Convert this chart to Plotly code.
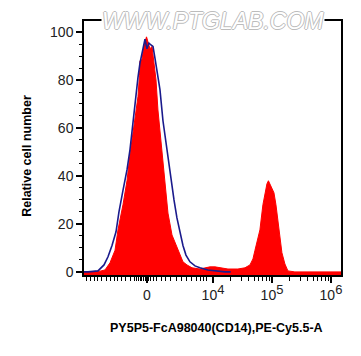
import numpy as np
import plotly.graph_objects as go

# ---- data (x in display units: 0 -> 2.88, 10^4 -> 4, 10^5 -> 5, 10^6 -> 6) ----
red_x = [1.812, 1.880, 2.083, 2.168, 2.253, 2.338, 2.388, 2.473, 2.541, 2.592, 2.643,
         2.694, 2.727, 2.753, 2.761, 2.795, 2.829, 2.872, 2.897, 2.931, 2.965, 2.999,
         3.033, 3.066, 3.100, 3.151, 3.202, 3.236, 3.304, 3.388, 3.439, 3.490, 3.558,
         3.643, 3.778, 3.863, 3.948, 4.033, 4.117, 4.253, 4.422, 4.541, 4.626, 4.677,
         4.711, 4.762, 4.795, 4.846, 4.880, 4.914, 4.939, 4.965, 4.999, 5.033, 5.067,
         5.100, 5.134, 5.168, 5.219, 5.270, 5.388, 6.170]
red_y = [0, 0, 0.3, 0.8, 3.8, 9, 17.5, 28, 38, 49, 59,
         67.5, 73, 82, 88, 88.5, 94.5, 98, 96, 93, 94, 88,
         80, 67.5, 59, 45, 34, 24.5, 15.4, 10, 7, 4.2, 2.9,
         1.7, 1.2, 1.7, 2.1, 2.1, 1.7, 1.2, 1.2, 1.7, 2.9, 5.4,
         9, 14, 17.5, 28, 32, 36.7, 38, 36.7, 35, 33, 28,
         21, 13, 8, 3.3, 0.4, 0, 0]

blue_x = [1.812, 1.880, 2.049, 2.151, 2.219, 2.287, 2.355, 2.405, 2.473, 2.541, 2.592,
          2.626, 2.677, 2.727, 2.761, 2.812, 2.846, 2.880, 2.914, 2.948, 2.982, 3.016,
          3.066, 3.100, 3.151, 3.185, 3.236, 3.287, 3.338, 3.388, 3.439, 3.490, 3.541,
          3.609, 3.694, 3.778, 3.914, 4.033, 4.202, 4.300]
blue_y = [0, 0, 0.4, 2.9, 6.3, 11, 16.7, 25, 34, 42.5, 51,
          59, 72, 81, 87, 93, 97, 93, 95.4, 94.6, 94, 89,
          82, 76, 63, 57, 46.7, 38, 30, 22.5, 16.7, 11, 7,
          4.2, 2.5, 1.7, 0.8, 0.4, 0, 0]

SUP = "<span style='font-size:13px'>{}</span>"
x_tickvals = [2.88, 4, 5, 6]
x_ticktext = ["0", "10<sup>" + SUP.format(4) + "</sup>", "10<sup>" + SUP.format(5) + "</sup>",
              "10<sup>" + SUP.format(6) + "</sup>"]
y_tickvals = [0, 20, 40, 60, 80, 100]
x_title = "PY5P5-FcA98040(CD14),PE-Cy5.5-A"
y_title = "Relative cell number"
watermark = "WWW.PTGLAB.COM"

X_RANGE = [1.812, 6.17]
Y_RANGE = [-1.3, 104.6]

# minor ticks (biexponential-style)
lin_minor = [1.846, 1.914, 1.982, 2.049, 2.117, 2.185, 2.253, 2.321, 2.388, 2.456, 2.524,
             2.592, 2.660, 2.694, 2.728, 2.762, 2.795, 2.829, 2.863, 2.914, 2.948, 2.982,
             3.049, 3.134, 3.202, 3.287, 3.388, 3.473, 3.558, 3.643, 3.727, 3.795, 3.846, 3.897]
log_minor = [m + np.log10(k) for m in (4, 5) for k in range(2, 10)]
x_minor = lin_minor + [float(v) for v in log_minor]

fig = go.Figure()
fig.add_trace(go.Scatter(x=X_RANGE, y=[Y_RANGE[0], Y_RANGE[0]], mode="lines",
                         line=dict(width=0, color="rgba(0,0,0,0)"), hoverinfo="skip",
                         showlegend=False))
fig.add_trace(go.Scatter(x=red_x, y=red_y, mode="lines", fill="tonexty",
                         fillcolor="#ff0000", line=dict(color="#ff0000", width=1),
                         showlegend=False))
fig.add_trace(go.Scatter(x=blue_x, y=blue_y, mode="lines",
                         line=dict(color="#1a1a8c", width=1.6), showlegend=False))

# page body has an 8px margin: shrink figure and margins to compensate
fig.update_layout(
    width=353, height=348,
    margin=dict(l=76, r=20, t=13, b=81, autoexpand=False),
    paper_bgcolor="white", plot_bgcolor="white",
    font=dict(family="Liberation Sans, Arial, sans-serif", color="#222"),
    showlegend=False,
)
fig.update_xaxes(
    range=X_RANGE, tickmode="array", tickvals=x_tickvals, ticktext=x_ticktext,
    ticks="outside", ticklen=6, tickwidth=1.5, tickcolor="black",
    showline=True, linecolor="black", linewidth=1.5, mirror=True, automargin=False,
    showgrid=False, zeroline=False, tickfont=dict(size=14, color="#222"),
    minor=dict(tickmode="array", tickvals=x_minor, ticks="outside", ticklen=4,
               tickwidth=1.2, tickcolor="black", showgrid=False),
)
fig.update_yaxes(
    range=Y_RANGE, tickmode="array", tickvals=y_tickvals,
    ticks="outside", ticklen=6, tickwidth=1.5, tickcolor="black",
    showline=True, linecolor="black", linewidth=1.5, mirror=True, automargin=False,
    showgrid=False, zeroline=False, tickfont=dict(size=14, color="#222"),
    minor=dict(dtick=5, tick0=0, ticks="outside", ticklen=3, tickwidth=1.2,
               tickcolor="black", showgrid=False),
)

fig.add_annotation(text="<b>" + x_title + "</b>", xref="paper", yref="paper",
                   x=0.514, y=-0.209, xanchor="center", yanchor="middle", showarrow=False,
                   font=dict(size=12.5, color="black"))
fig.add_annotation(text="<b>" + y_title + "</b>", xref="paper", yref="paper",
                   x=-0.222, y=0.469, xanchor="center", yanchor="middle", showarrow=False,
                   textangle=-90, font=dict(size=12.5, color="black"))
fig.add_annotation(
    text="<i>" + watermark + "</i>", xref="paper", yref="paper", x=0.5, y=1.0,
    xanchor="center", yanchor="middle", showarrow=False, bgcolor="white",
    font=dict(family="Liberation Sans, Arial, sans-serif", size=23, color="#ffffff",
              shadow="1px 0 0 #bcbcbc, -1px 0 0 #bcbcbc, 0 1px 0 #bcbcbc, 0 -1px 0 #bcbcbc"),
    borderpad=0,
)

fig.write_html("out.html")
